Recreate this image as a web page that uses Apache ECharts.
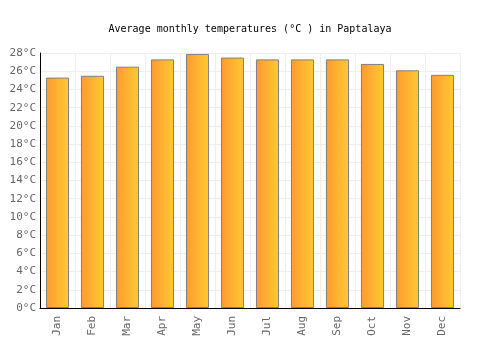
<!DOCTYPE html>
<html>
<head>
<meta charset="utf-8">
<script src="https://cdn.jsdelivr.net/npm/echarts@6/dist/echarts.min.js"></script>
<style>
  html, body { margin: 0; padding: 0; background: #fff; }
  #chart { width: 500px; height: 350px; }
</style>
</head>
<body>
<div id="chart"></div>
<script>
const months = ['Jan', 'Feb', 'Mar', 'Apr', 'May', 'Jun', 'Jul', 'Aug', 'Sep', 'Oct', 'Nov', 'Dec'];
const temps = [25.3, 25.5, 26.5, 27.3, 27.9, 27.5, 27.3, 27.3, 27.3, 26.8, 26.1, 25.6];

const mono = "'DejaVu Sans Mono', monospace";
const chart = echarts.init(document.getElementById('chart'), null, { renderer: 'canvas' });

chart.setOption({
  backgroundColor: '#fff',
  animation: false,
  title: {
    text: 'Average monthly temperatures (°C ) in Paptalaya',
    left: 'center',
    top: 19,
    textStyle: { fontFamily: mono, fontSize: 10, fontWeight: 'normal', color: '#000' },
  },
  grid: { left: 40, right: 40, top: 53, bottom: 42 },
  xAxis: {
    type: 'category',
    data: months,
    axisLine: { lineStyle: { color: '#000', width: 1 } },
    axisTick: { show: false },
    axisLabel: { rotate: 90, color: '#666', fontFamily: mono, fontSize: 11, margin: 8 },
    splitLine: { show: true, lineStyle: { color: '#eee' } },
  },
  yAxis: {
    type: 'value',
    min: 0,
    max: 28,
    interval: 2,
    axisLine: { show: true, lineStyle: { color: '#000', width: 1 } },
    axisTick: { show: false },
    axisLabel: { color: '#666', fontFamily: mono, fontSize: 11, formatter: '{value}°C', margin: 4 },
    splitLine: { lineStyle: { color: '#eee' } },
  },
  series: [
    {
      type: 'bar',
      data: temps,
      barWidth: '66%',
      itemStyle: {
        borderColor: '#808080',
        borderWidth: 1,
        color: new echarts.graphic.LinearGradient(0, 0, 1, 0, [
          { offset: 0, color: '#ff9a30' },
          { offset: 1, color: '#ffc933' },
        ]),
      },
    },
  ],
});
</script>
</body>
</html>
